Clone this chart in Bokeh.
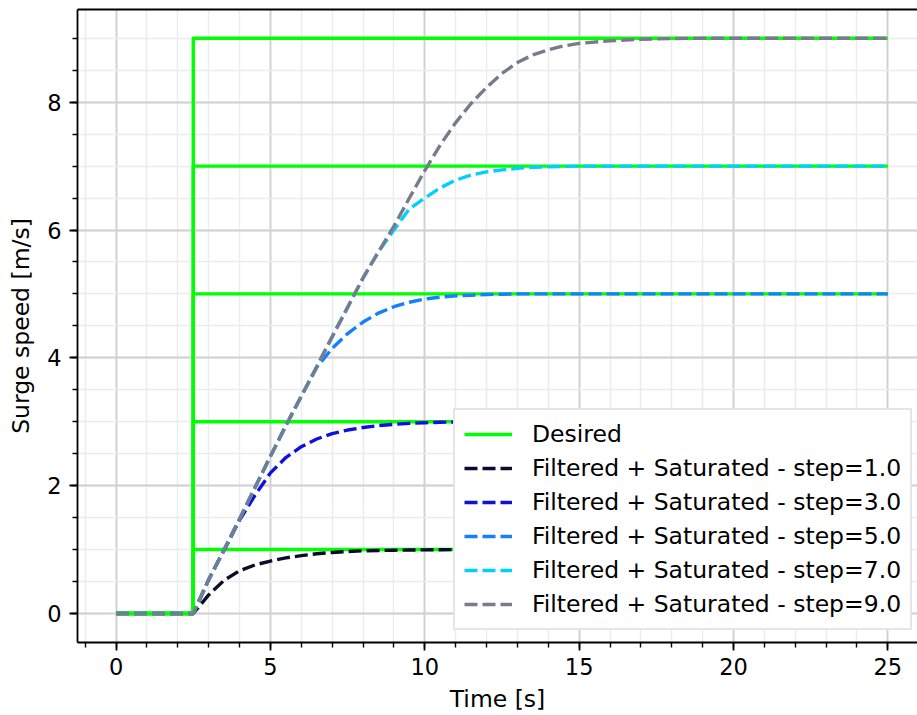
from bokeh.plotting import figure
from bokeh.models import (Range1d, SingleIntervalTicker, LinearAxis, Legend,
                          LegendItem, FixedTicker)
from bokeh.embed import file_html
from bokeh.resources import INLINE

# ---------------- data ----------------
time = [0, 2.5, 3, 3.5, 4, 4.5, 5, 5.5, 6, 6.5, 7, 7.5, 8, 8.5, 9, 9.5, 10,
        10.5, 11, 11.5, 12, 12.5, 13, 13.5, 14, 14.5, 15, 16, 17, 18, 19, 20, 25]

step_1 = [0, 0, 0.29, 0.52, 0.67, 0.76, 0.82, 0.87, 0.905, 0.935, 0.955, 0.97,
          0.98, 0.985, 0.99, 0.993, 0.996, 0.998, 1.0, 1.0, 1.0, 1.0, 1.0, 1.0,
          1.0, 1.0, 1.0, 1.0, 1.0, 1.0, 1.0, 1.0, 1.0]
step_3 = [0, 0, 0.53, 0.99, 1.46, 1.85, 2.2, 2.44, 2.61, 2.73, 2.815, 2.87,
          2.91, 2.94, 2.96, 2.975, 2.985, 2.992, 2.996, 3.0, 3.0, 3.0, 3.0, 3.0,
          3.0, 3.0, 3.0, 3.0, 3.0, 3.0, 3.0, 3.0, 3.0]
step_5 = [0, 0, 0.53, 1.0, 1.48, 1.97, 2.46, 2.94, 3.4, 3.85, 4.15, 4.38,
          4.56, 4.7, 4.8, 4.87, 4.92, 4.95, 4.97, 4.98, 4.99, 4.995, 5.0, 5.0,
          5.0, 5.0, 5.0, 5.0, 5.0, 5.0, 5.0, 5.0, 5.0]
step_7 = [0, 0, 0.53, 1.0, 1.48, 1.97, 2.46, 2.94, 3.4, 3.86, 4.33, 4.79,
          5.25, 5.66, 6.0, 6.33, 6.5, 6.66, 6.78, 6.86, 6.91, 6.94, 6.965, 6.98,
          6.99, 6.995, 7.0, 7.0, 7.0, 7.0, 7.0, 7.0, 7.0]
step_9 = [0, 0, 0.53, 1.0, 1.48, 1.97, 2.46, 2.94, 3.4, 3.86, 4.33, 4.79,
          5.25, 5.66, 6.06, 6.5, 6.93, 7.33, 7.68, 7.98, 8.23, 8.45, 8.62, 8.74,
          8.82, 8.88, 8.92, 8.96, 8.985, 8.995, 9.0, 9.0, 9.0]

steps = [1.0, 3.0, 5.0, 7.0, 9.0]
filtered = [step_1, step_3, step_5, step_7, step_9]
desired_time = [0, 2.5, 2.5, 25]

labels = ["Filtered + Saturated - step=%.1f" % s for s in steps]
colors = ["#0b0b2b", "#0f0fe0", "#1480ff", "#00d0ff", "#7a7a8e"]
green = "#00ff00"

FONT = "DejaVu Sans"
FS_TICK = "22.5px"
FS = "23.5px"

p = figure(width=917, height=715, output_backend="svg", toolbar_location=None,
           x_range=Range1d(-1.25, 25.96), y_range=Range1d(-0.454, 9.45),
           min_border_left=77, min_border_right=0, min_border_top=9,
           min_border_bottom=73,
           x_axis_label="Time [s]", y_axis_label="Surge speed [m/s]")
p.outline_line_color = None
p.background_fill_color = "white"
p.border_fill_color = "white"

xt = SingleIntervalTicker(interval=5, num_minor_ticks=5)
yt = SingleIntervalTicker(interval=2, num_minor_ticks=4)
p.xaxis.ticker = xt
p.yaxis.ticker = yt
p.xgrid.ticker = xt
p.ygrid.ticker = yt

for g in (p.xgrid, p.ygrid):
    g.grid_line_color = "#d0d0d0"
    g.grid_line_width = 1.8
    g.minor_grid_line_color = "#ececec"
    g.minor_grid_line_width = 1.5

for ax in (p.xaxis[0], p.yaxis[0]):
    ax.axis_line_width = 1.8
    ax.axis_line_color = "black"
    ax.major_tick_line_width = 1.8
    ax.minor_tick_line_width = 1.4
    ax.major_tick_out = 8
    ax.major_tick_in = 0
    ax.minor_tick_out = 5
    ax.minor_tick_in = 0
    ax.major_label_text_font = FONT
    ax.major_label_text_font_size = FS_TICK
    ax.major_label_text_color = "black"
    ax.axis_label_text_font = FONT
    ax.axis_label_text_font_size = FS
    ax.axis_label_text_font_style = "normal"
    ax.axis_label_text_color = "black"

p.xaxis[0].major_label_standoff = 7
p.xaxis[0].axis_label_standoff = 7
p.yaxis[0].major_label_standoff = 8
p.yaxis[0].axis_label_standoff = 9

top = LinearAxis(ticker=FixedTicker(ticks=[]), axis_line_width=1.8,
                 axis_line_color="black", major_tick_line_color=None,
                 minor_tick_line_color=None, major_label_text_font_size="0px")
p.add_layout(top, "above")

desired_renderers = []
filtered_renderers = []
for s, vals, c in zip(steps, filtered, colors):
    d = p.line(desired_time, [0, 0, s, s], line_color=green, line_width=3.4,
               line_join="round")
    desired_renderers.append(d)
    f = p.line(time, vals, line_color=c, line_width=3.4, line_dash="13 5",
               line_join="round")
    filtered_renderers.append(f)

items = [LegendItem(label="Desired", renderers=[desired_renderers[0]])]
for lab, r in zip(labels, filtered_renderers):
    items.append(LegendItem(label=lab, renderers=[r]))

legend = Legend(items=items, location=(376, 12), margin=0, padding=9,
                spacing=4, glyph_width=48, glyph_height=30, label_height=30,
                label_standoff=20, label_text_font=FONT,
                label_text_font_size=FS, label_text_color="black",
                border_line_color="#cccccc", border_line_width=2,
                background_fill_color="white", background_fill_alpha=1.0)
p.add_layout(legend)

open("out.html", "w").write(file_html(p, INLINE))
